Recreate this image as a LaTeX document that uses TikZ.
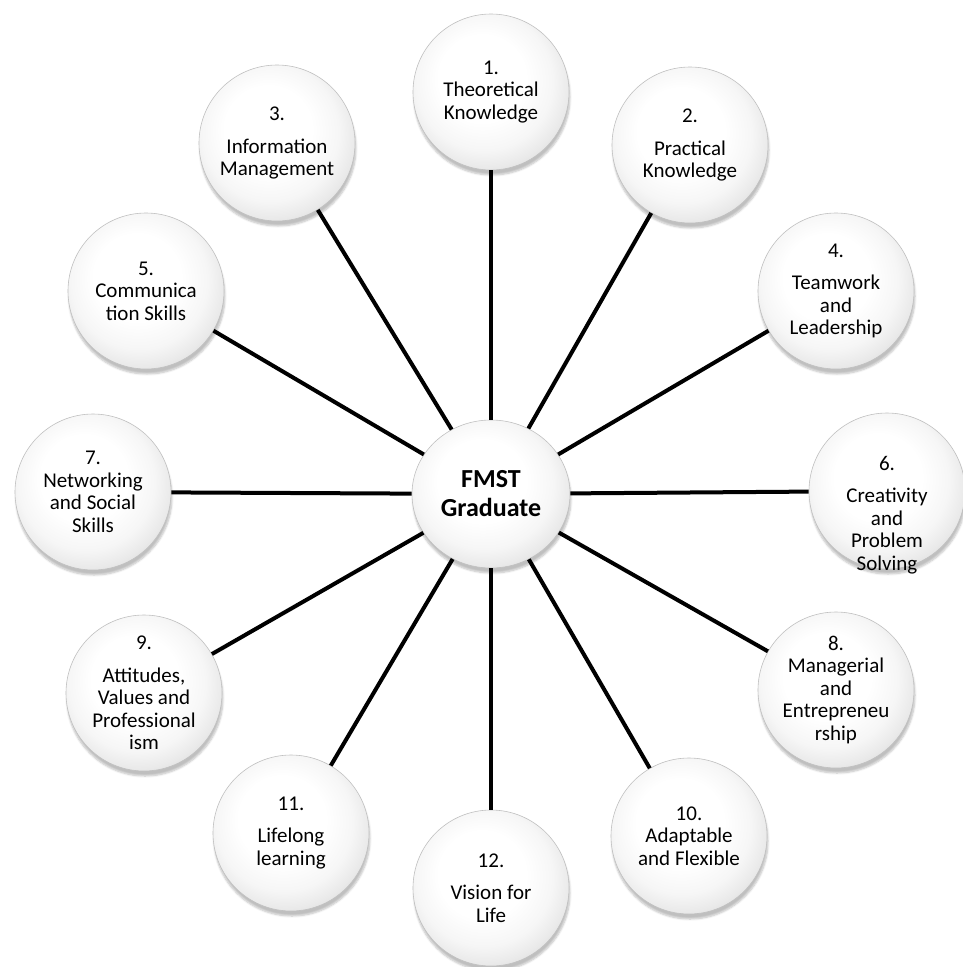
\documentclass[tikz,border=0pt]{standalone}
\usepackage{fontspec}
\setmainfont{Carlito}
\usepackage{tikz}
\usetikzlibrary{shapes.geometric}
\usetikzlibrary{shadows.blur}
\pgfdeclareradialshading{beadshade}{\pgfpoint{-4bp}{6bp}}{color(0bp)=(white); color(14bp)=(white); color(22bp)=(gray!7); color(27bp)=(gray!17); color(31bp)=(gray!30); color(50bp)=(gray!30)}

\begin{document}
\begin{tikzpicture}[x=1pt,y=-1pt,line cap=rect,
		beadtext/.style={align=center, font=\fontsize{21pt}{22.5pt}\selectfont},
		bead/.style={circle, minimum size=156pt, inner sep=0pt, draw=custcol_c0_c0_c0, line width=0.6pt, shade, shading=beadshade, blur shadow={shadow xshift=1pt, shadow yshift=-5pt, shadow opacity=25, shadow blur steps=6}, beadtext},
		spoke/.style={line width=4pt, custcol_0_0_0, line cap=butt}]
					\definecolor{custcol_0_0_0}{RGB}{0, 0, 0}
					\definecolor{custcol_c0_c0_c0}{RGB}{192, 192, 192}
					\useasboundingbox (0.0,0.0) rectangle (962.0,967.0);
					% hub
					\node[bead, ellipse, minimum width=158pt, minimum height=148pt, font=\fontsize{26pt}{29pt}\selectfont\bfseries] (grad) at (491.0,494.0) {FMST\\Graduate};
					% ring of skills
					\node[bead] (sk1) at (491.0,92.0) {1.\\Theoretical\\Knowledge};
					\node[bead] (sk2) at (690.0,145.0) {2.\\[10pt]Practical\\Knowledge};
					\node[bead] (sk3) at (277.0,143.0) {3.\\[10pt]Information\\Management};
					\node[bead] (sk4) at (836.0,291.0) {4.\\[10pt]Teamwork\\and\\Leadership};
					\node[bead] (sk5) at (146.0,291.0) {5.\\Communica\\tion Skills};
					\node[bead, label={[beadtext, yshift=-24pt]center:6.\\[10pt]Creativity\\and\\Problem\\Solving}] (sk6) at (887.0,491.0) {}; % text sits low in the reference
					\node[bead] (sk7) at (93.0,492.0) {7.\\Networking\\and Social\\Skills};
					\node[bead] (sk8) at (836.0,690.0) {8.\\Managerial\\and\\Entrepreneu\\rship};
					\node[bead] (sk9) at (144.0,693.0) {9.\\[10pt]Attitudes,\\Values and\\Professional\\ism};
					\node[bead] (sk10) at (689.0,836.0) {10.\\Adaptable\\and Flexible};
					\node[bead] (sk11) at (291.0,833.0) {11.\\[10pt]Lifelong\\learning};
					\node[bead] (sk12) at (491.0,888.0) {12.\\[10pt]Vision for\\Life};
					\foreach \k in {1,...,12}
						\draw [spoke] (grad) -- (sk\k);
				\end{tikzpicture}
\end{document}
